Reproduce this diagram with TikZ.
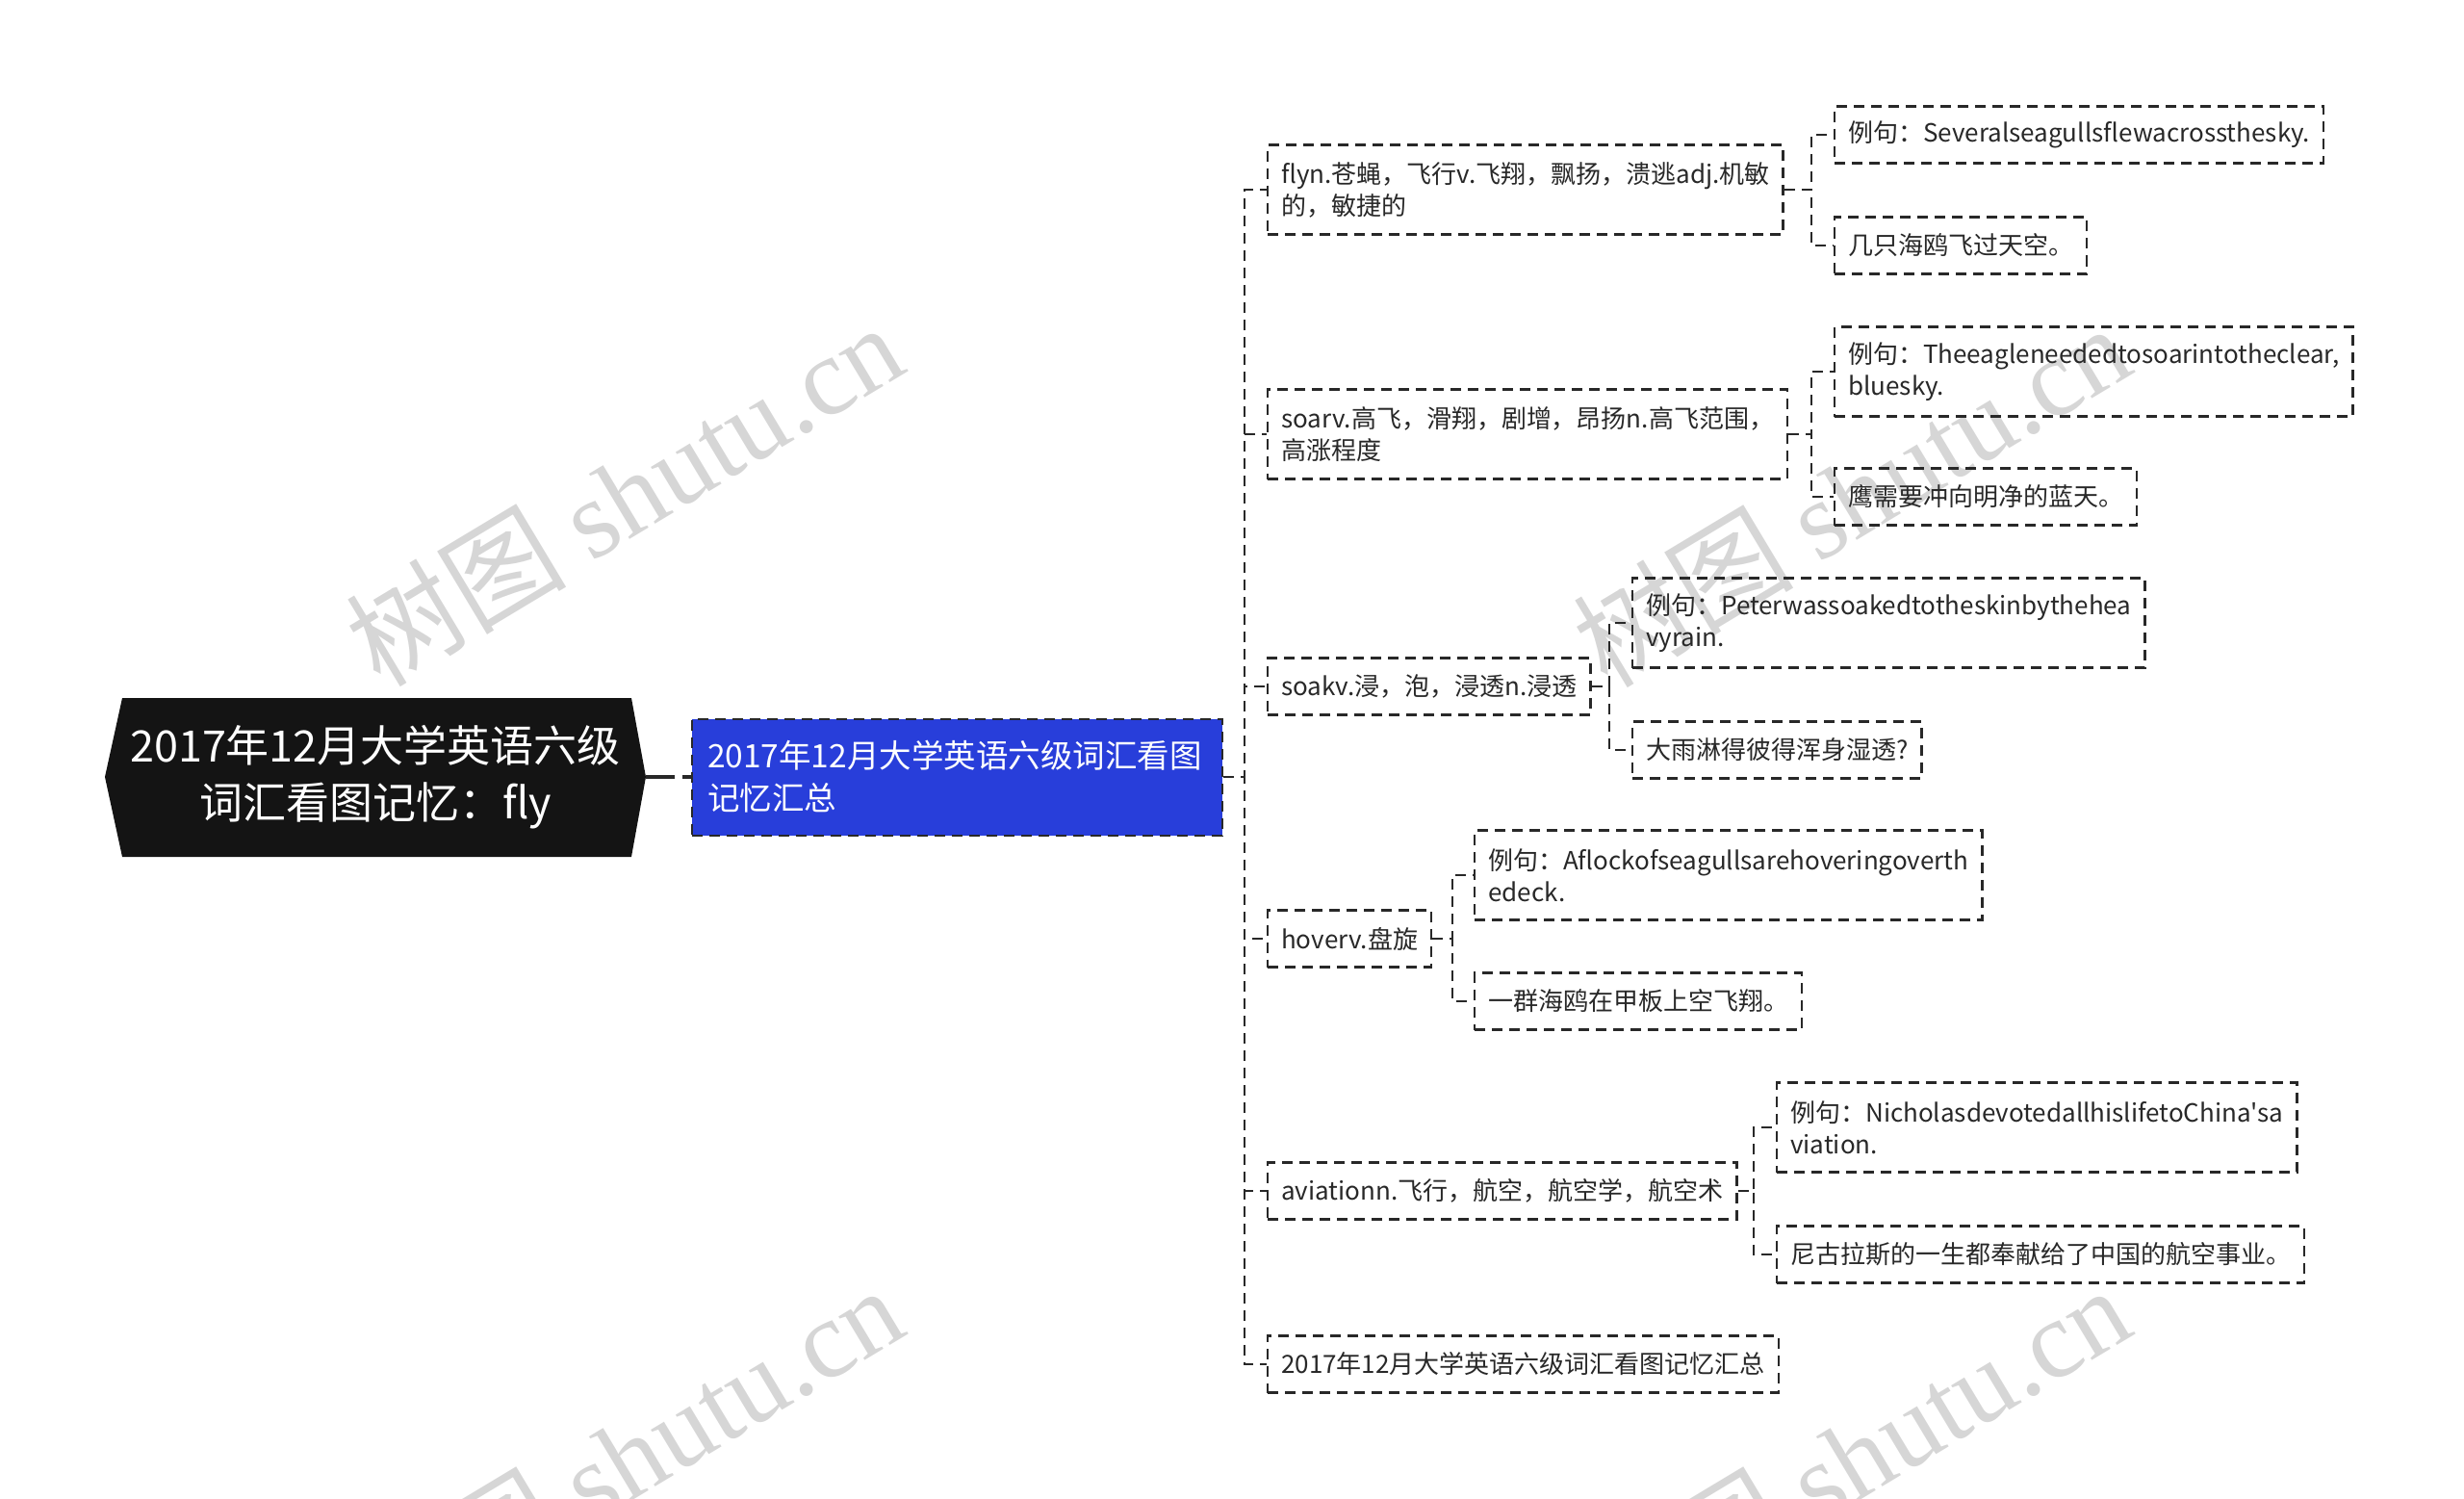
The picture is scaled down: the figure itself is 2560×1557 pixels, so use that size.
\documentclass[tikz,border=0pt]{standalone}
\usepackage{fontspec}
\setmainfont{Noto Sans CJK SC}[Ligatures=TeXOff]
\newfontfamily\wmcjk{Noto Sans CJK SC}
\newfontfamily\wmlat{Liberation Serif}
\definecolor{hubblue}{RGB}{40,62,218}
\definecolor{inkc}{RGB}{40,40,40}
\begin{document}
\begin{tikzpicture}[x=1pt,y=-1pt,
  edge/.style={draw=inkc, line width=2.4pt, dash pattern=on 11pt off 7pt},
  leaf/.style={draw=inkc, line width=2.4pt, dash pattern=on 11pt off 7pt,
    inner xsep=14pt, inner ysep=0pt, align=left, anchor=west, text=inkc,
    font=\fontsize{26}{33}\selectfont, minimum height=59pt},
  leaftwo/.style={leaf, minimum height=93pt},
  wm/.style={text=black!16, font=\fontsize{115}{115}\selectfont, rotate=31, inner sep=0pt}
]
\useasboundingbox (0,0) rectangle (2560,1557);
\clip (0,0) rectangle (2560,1557);
% watermarks
\node[wm] (wm1) at (648,513) {{\wmcjk 树图} {\wmlat shutu.cn}};
\node[wm] (wm2) at (1923,514) {{\wmcjk 树图} {\wmlat shutu.cn}};
\node[wm] (wm3) at (648,1513) {{\wmcjk 树图} {\wmlat shutu.cn}};
\node[wm] (wm4) at (1923,1513) {{\wmcjk 树图} {\wmlat shutu.cn}};
% root
\fill[black!92] (109,807) -- (127,725) -- (656,725) -- (671,807) -- (656,890) -- (127,890) -- cycle;
\node[minimum width=562pt, minimum height=165pt, inner sep=0pt, align=center, text=white,
  font=\fontsize{45}{59}\selectfont] (root) at (390,807) {2017年12月大学英语六级\\词汇看图记忆：fly};
% hub
\node[fill=hubblue, draw=inkc, line width=2pt, dash pattern=on 11pt off 7pt, anchor=west,
  text width=519pt, align=left, inner xsep=16pt, minimum height=121pt, text=white,
  font=\fontsize{33.5}{44}\selectfont] (hub) at (718,807) {2017年12月大学英语六级词汇看图\\记忆汇总};
\draw[draw=inkc, line width=4pt, dash pattern=on 30pt off 8pt] (root.east) -- (hub.west);
% level 2
\node[leaftwo] (fly) at (1316,197) {flyn.苍蝇，飞行v.飞翔，飘扬，溃逃adj.机敏\\的，敏捷的};
\node[leaftwo] (soar) at (1316,451) {soarv.高飞，滑翔，剧增，昂扬n.高飞范围，\\高涨程度};
\node[leaf] (soak) at (1316,713) {soakv.浸，泡，浸透n.浸透};
\node[leaf] (hover) at (1316,975) {hoverv.盘旋};
\node[leaf] (avia) at (1316,1237) {aviationn.飞行，航空，航空学，航空术};
\node[leaf] (sum) at (1316,1417) {2017年12月大学英语六级词汇看图记忆汇总};
% level 3
\node[leaf] (fa) at (1905,140) {例句：Severalseagullsflewacrossthesky.};
\node[leaf] (fb) at (1905,255) {几只海鸥飞过天空。};
\node[leaftwo] (sa) at (1905,386) {例句：Theeagleneededtosoarintotheclear,\\bluesky.};
\node[leaf] (sb) at (1905,516) {鹰需要冲向明净的蓝天。};
\node[leaftwo] (ka) at (1695,647) {例句：Peterwassoakedtotheskinbythehea\\vyrain.};
\node[leaf] (kb) at (1695,779) {大雨淋得彼得浑身湿透?};
\node[leaftwo] (ha) at (1531,909) {例句：Aflockofseagullsarehoveringoverth\\edeck.};
\node[leaf] (hb) at (1531,1040) {一群海鸥在甲板上空飞翔。};
\node[leaftwo] (aa) at (1845,1171) {例句：NicholasdevotedallhislifetoChina'sa\\viation.};
\node[leaf] (ab) at (1845,1303) {尼古拉斯的一生都奉献给了中国的航空事业。};
% trunk coordinates
\coordinate (j0) at (1293,0);
\coordinate (j1) at (1882,0);
\coordinate (j2) at (1882,0);
\coordinate (j3) at (1672,0);
\coordinate (j4) at (1509,0);
\coordinate (j5) at (1822,0);
% connectors
\foreach \c in {fly,soar,soak,hover,avia,sum}
  \draw[edge] (hub.east) -- (hub.east -| j0) |- (\c.west);
\foreach \c in {fa,fb} \draw[edge] (fly.east) -- (fly.east -| j1) |- (\c.west);
\foreach \c in {sa,sb} \draw[edge] (soar.east) -- (soar.east -| j2) |- (\c.west);
\foreach \c in {ka,kb} \draw[edge] (soak.east) -- (soak.east -| j3) |- (\c.west);
\foreach \c in {ha,hb} \draw[edge] (hover.east) -- (hover.east -| j4) |- (\c.west);
\foreach \c in {aa,ab} \draw[edge] (avia.east) -- (avia.east -| j5) |- (\c.west);
\end{tikzpicture}
\end{document}
